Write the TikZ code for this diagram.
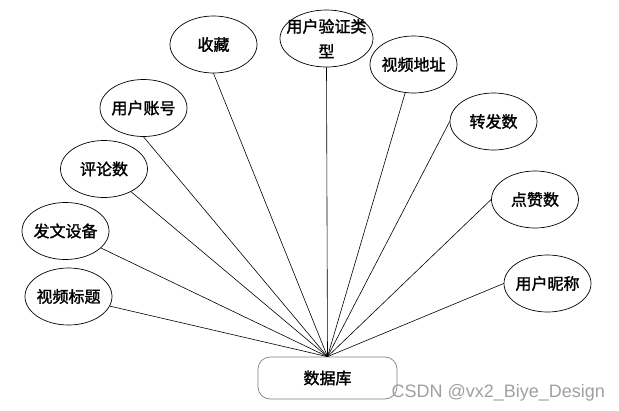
\documentclass[tikz,border=0pt]{standalone}
\usepackage{fontspec}
\newfontfamily\cjk[FakeBold=1.6]{Noto Sans CJK SC}
\setsansfont{Liberation Sans}
\usetikzlibrary{shapes.geometric}
\definecolor{c1}{HTML}{000000}
\definecolor{boxline}{HTML}{808080}
\definecolor{markcol}{HTML}{A0A0A0}

\begin{document}
\begin{tikzpicture}[
    x=1pt, y=-1pt,
    every node/.style={font=\cjk\fontsize{16}{25}\selectfont, text=c1},
    attr/.style={ellipse, draw=c1, line width=0.7pt, minimum width=87pt,
        minimum height=57pt, inner xsep=-2pt, inner ysep=0pt},
    store/.style={draw=boxline, rounded corners=12pt, line width=0.7pt,
        minimum width=139pt, minimum height=42pt},
    link/.style={c1, line width=0.6pt},
    wmark/.style={font=\sffamily\fontsize{18}{20}\selectfont, text=markcol},
]
\useasboundingbox (0,0) rectangle (619,410);

% the attributes, left side
\node[attr] (shoucang) at (213.5, 44.5) {收藏};
\node[attr] (zhanghao) at (143.5, 108) {用户账号};
\node[attr] (pinglun) at (104, 169) {评论数};
\node[attr] (shebei) at (65.5, 231) {发文设备};
\node[attr] (biaoti) at (68.5, 296.5) {视频标题};

% the attributes, right side
\node[attr, minimum width=93pt, inner xsep=-8pt, align=center] (yanzheng) at (326.5, 38.5) {用户验证类\\型};
\node[attr] (dizhi) at (413.5, 64.5) {视频地址};
\node[attr] (zhuanfa) at (493.5, 121.5) {转发数};
\node[attr] (dianzan) at (535, 199.5) {点赞数};
\node[attr] (nicheng) at (547.5, 283.5) {用户昵称};

% the entity
\node[store] (db) at (327.5, 378) {数据库};

\draw[link] (shoucang.south) -- (db.north);
\draw[link] (zhanghao.south) -- (db.north);
\draw[link] (pinglun) -- (db.north);
\draw[link] (shebei) -- (db.north);
\draw[link] (biaoti) -- (db.north);
\draw[link] (yanzheng.south) -- (db.north);
\draw[link] (dizhi) -- (db.north);
\draw[link] (zhuanfa.west) -- (db.north);
\draw[link] (dianzan.west) -- (db.north);
\draw[link] (nicheng.west) -- (db.north);

\node[wmark, anchor=base west] (wm) at (388, 397) {CSDN @vx2\_Biye\_Design};
\end{tikzpicture}
\end{document}
